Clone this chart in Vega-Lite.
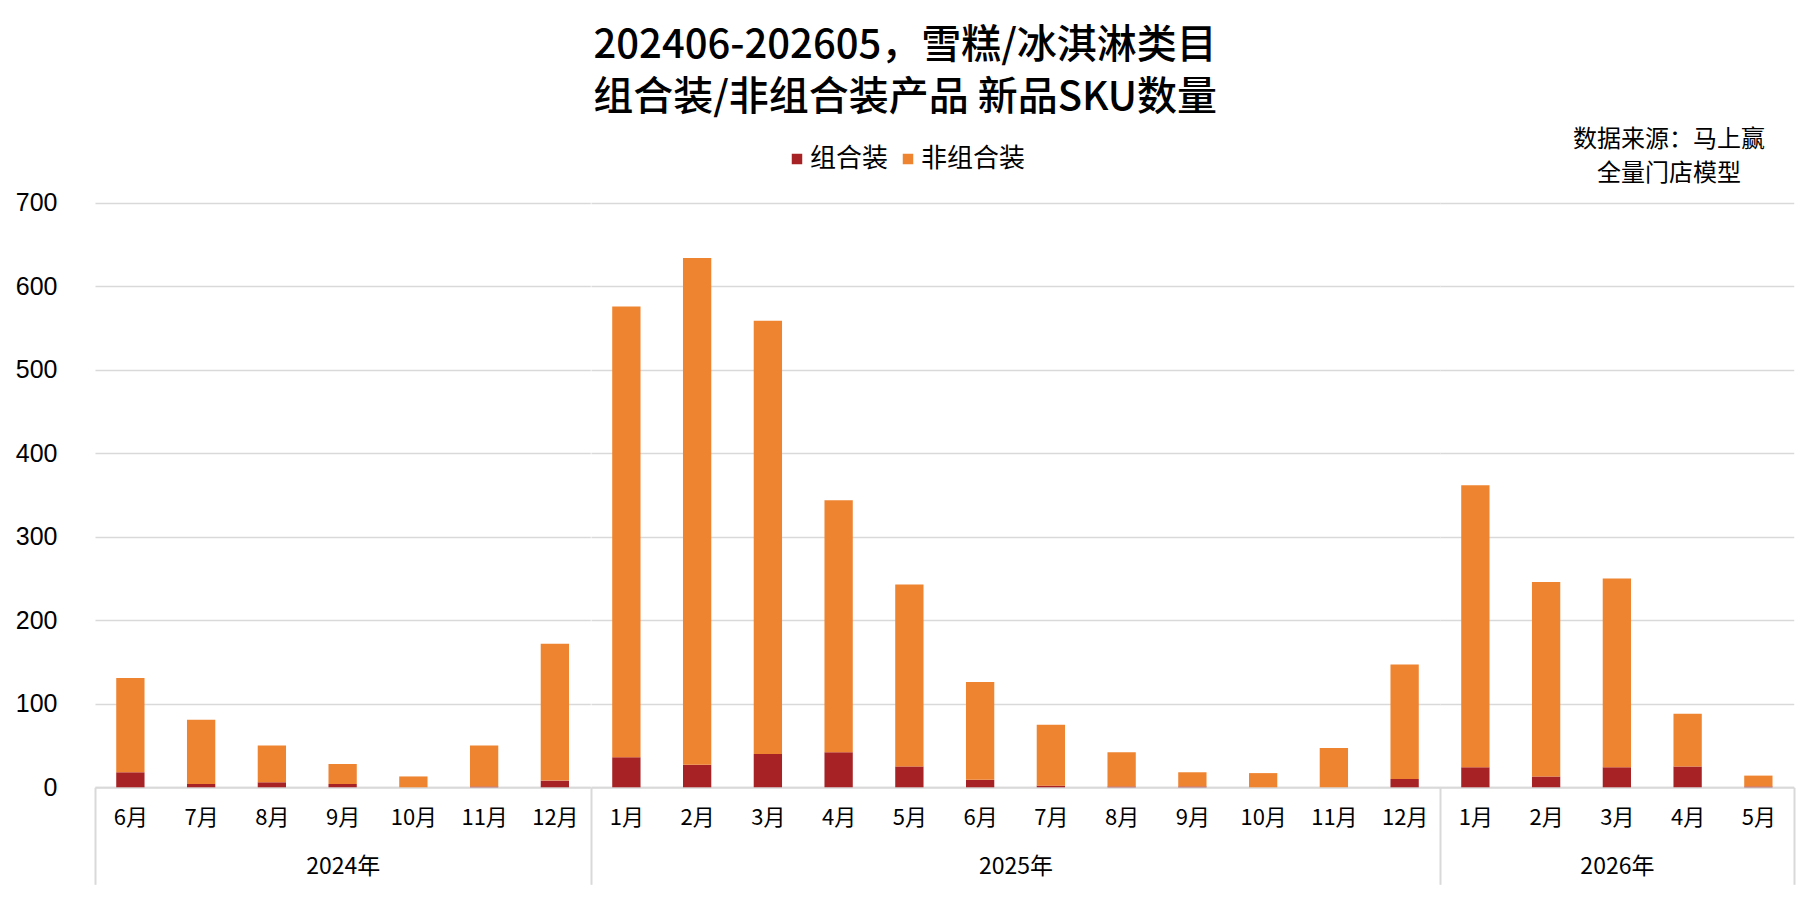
{
  "$schema": "https://vega.github.io/schema/vega-lite/v6.json",
  "padding": {"left": 15, "top": 26, "right": 23, "bottom": 8},
  "background": "white",
  "title": {
    "text": ["202406-202605，雪糕/冰淇淋类目", "组合装/非组合装产品 新品SKU数量"],
    "anchor": "middle",
    "frame": "bounds",
    "font": "Noto Sans CJK SC",
    "fontSize": 40,
    "lineHeight": 52,
    "fontWeight": 500,
    "color": "#000000",
    "offset": -2
  },
  "data": {
    "values": [
      {"year": "2024年", "month": "6月", "type": "组合装", "count": 18},
      {"year": "2024年", "month": "6月", "type": "非组合装", "count": 113},
      {"year": "2024年", "month": "7月", "type": "组合装", "count": 4},
      {"year": "2024年", "month": "7月", "type": "非组合装", "count": 77},
      {"year": "2024年", "month": "8月", "type": "组合装", "count": 6},
      {"year": "2024年", "month": "8月", "type": "非组合装", "count": 44},
      {"year": "2024年", "month": "9月", "type": "组合装", "count": 4},
      {"year": "2024年", "month": "9月", "type": "非组合装", "count": 24},
      {"year": "2024年", "month": "10月", "type": "组合装", "count": 0},
      {"year": "2024年", "month": "10月", "type": "非组合装", "count": 13},
      {"year": "2024年", "month": "11月", "type": "组合装", "count": 1},
      {"year": "2024年", "month": "11月", "type": "非组合装", "count": 49},
      {"year": "2024年", "month": "12月", "type": "组合装", "count": 8},
      {"year": "2024年", "month": "12月", "type": "非组合装", "count": 164},
      {"year": "2025年", "month": "1月", "type": "组合装", "count": 36},
      {"year": "2025年", "month": "1月", "type": "非组合装", "count": 540},
      {"year": "2025年", "month": "2月", "type": "组合装", "count": 27},
      {"year": "2025年", "month": "2月", "type": "非组合装", "count": 607},
      {"year": "2025年", "month": "3月", "type": "组合装", "count": 40},
      {"year": "2025年", "month": "3月", "type": "非组合装", "count": 519},
      {"year": "2025年", "month": "4月", "type": "组合装", "count": 42},
      {"year": "2025年", "month": "4月", "type": "非组合装", "count": 302},
      {"year": "2025年", "month": "5月", "type": "组合装", "count": 25},
      {"year": "2025年", "month": "5月", "type": "非组合装", "count": 218},
      {"year": "2025年", "month": "6月", "type": "组合装", "count": 9},
      {"year": "2025年", "month": "6月", "type": "非组合装", "count": 117},
      {"year": "2025年", "month": "7月", "type": "组合装", "count": 2},
      {"year": "2025年", "month": "7月", "type": "非组合装", "count": 73},
      {"year": "2025年", "month": "8月", "type": "组合装", "count": 1},
      {"year": "2025年", "month": "8月", "type": "非组合装", "count": 41},
      {"year": "2025年", "month": "9月", "type": "组合装", "count": 1},
      {"year": "2025年", "month": "9月", "type": "非组合装", "count": 17},
      {"year": "2025年", "month": "10月", "type": "组合装", "count": 0},
      {"year": "2025年", "month": "10月", "type": "非组合装", "count": 17},
      {"year": "2025年", "month": "11月", "type": "组合装", "count": 0},
      {"year": "2025年", "month": "11月", "type": "非组合装", "count": 47},
      {"year": "2025年", "month": "12月", "type": "组合装", "count": 10},
      {"year": "2025年", "month": "12月", "type": "非组合装", "count": 137},
      {"year": "2026年", "month": "1月", "type": "组合装", "count": 24},
      {"year": "2026年", "month": "1月", "type": "非组合装", "count": 338},
      {"year": "2026年", "month": "2月", "type": "组合装", "count": 13},
      {"year": "2026年", "month": "2月", "type": "非组合装", "count": 233},
      {"year": "2026年", "month": "3月", "type": "组合装", "count": 24},
      {"year": "2026年", "month": "3月", "type": "非组合装", "count": 226},
      {"year": "2026年", "month": "4月", "type": "组合装", "count": 25},
      {"year": "2026年", "month": "4月", "type": "非组合装", "count": 63},
      {"year": "2026年", "month": "5月", "type": "组合装", "count": 1},
      {"year": "2026年", "month": "5月", "type": "非组合装", "count": 13}
    ]
  },
  "spacing": 0,
  "bounds": "flush",
  "resolve": {"scale": {"y": "shared", "color": "shared"}},
  "hconcat": [
    {
      "width": 495.25,
      "height": 584.3,
      "title": {"text": [" ", " "], "fontSize": 24, "lineHeight": 34, "offset": 17},
      "transform": [{"filter": {"field": "year", "equal": "2024年"}}],
      "mark": {"type": "bar", "width": {"band": 0.4}},
      "encoding": {
        "x": {
          "field": "month", "type": "ordinal", "sort": null,
          "scale": {"paddingInner": 0, "paddingOuter": 0},
          "axis": {
            "title": "2024年", "labelAngle": 0, "tickBand": "extent", "tickSize": 97,
            "tickWidth": 2, "tickColor": "#d9d9d9",
            "tickOpacity": {"condition": {"test": "datum.index < 0", "value": 1}, "value": 0},
            "labelPadding": -67, "labelBaseline": "middle", "titleY": 79, "titleBaseline": "middle"
          }
        },
        "y": {
          "field": "count", "type": "quantitative", "stack": "zero",
          "scale": {"domain": [0, 700]},
          "axis": {
            "title": null, "values": [0, 100, 200, 300, 400, 500, 600, 700],
            "domain": false, "ticks": false, "labelPadding": 38,
            "labelFont": "Liberation Sans", "labelFontSize": 25
          }
        },
        "color": {
          "field": "type", "type": "nominal",
          "scale": {"domain": ["组合装", "非组合装"], "range": ["#A72224", "#EF8430"]},
          "legend": {"orient": "none", "legendX": 689, "legendY": -57, "direction": "horizontal", "title": null}
        },
        "order": {"field": "type", "sort": "ascending"}
      }
    },
    {
      "width": 849,
      "height": 584.3,
      "title": {"text": [" ", " "], "fontSize": 24, "lineHeight": 34, "offset": 17},
      "transform": [{"filter": {"field": "year", "equal": "2025年"}}],
      "mark": {"type": "bar", "width": {"band": 0.4}},
      "encoding": {
        "x": {
          "field": "month", "type": "ordinal", "sort": null,
          "scale": {"paddingInner": 0, "paddingOuter": 0},
          "axis": {
            "title": "2025年", "labelAngle": 0, "tickBand": "extent", "tickSize": 97,
            "tickWidth": 2, "tickColor": "#d9d9d9",
            "tickOpacity": {"condition": {"test": "datum.index < 0", "value": 1}, "value": 0},
            "labelPadding": -67, "labelBaseline": "middle", "titleY": 79, "titleBaseline": "middle"
          }
        },
        "y": {
          "field": "count", "type": "quantitative", "stack": "zero",
          "scale": {"domain": [0, 700]},
          "axis": {"title": null, "values": [0, 100, 200, 300, 400, 500, 600, 700], "domain": false, "ticks": false, "labels": false}
        },
        "color": {
          "field": "type", "type": "nominal",
          "scale": {"domain": ["组合装", "非组合装"], "range": ["#A72224", "#EF8430"]},
          "legend": {"orient": "none", "legendX": 689, "legendY": -57, "direction": "horizontal", "title": null}
        },
        "order": {"field": "type", "sort": "ascending"}
      }
    },
    {
      "width": 353.75,
      "height": 584.3,
      "title": {
        "text": ["数据来源：马上赢", "全量门店模型"],
        "anchor": "end", "align": "center", "dx": -126,
        "fontSize": 24, "lineHeight": 34, "offset": 17
      },
      "transform": [{"filter": {"field": "year", "equal": "2026年"}}],
      "mark": {"type": "bar", "width": {"band": 0.4}},
      "encoding": {
        "x": {
          "field": "month", "type": "ordinal", "sort": null,
          "scale": {"paddingInner": 0, "paddingOuter": 0},
          "axis": {
            "title": "2026年", "labelAngle": 0, "tickBand": "extent", "tickSize": 97,
            "tickWidth": 2, "tickColor": "#d9d9d9",
            "tickOpacity": {"condition": {"test": "datum.index < 0 || datum.value === '5月'", "value": 1}, "value": 0},
            "labelPadding": -67, "labelBaseline": "middle", "titleY": 79, "titleBaseline": "middle"
          }
        },
        "y": {
          "field": "count", "type": "quantitative", "stack": "zero",
          "scale": {"domain": [0, 700]},
          "axis": {"title": null, "values": [0, 100, 200, 300, 400, 500, 600, 700], "domain": false, "ticks": false, "labels": false}
        },
        "color": {
          "field": "type", "type": "nominal",
          "scale": {"domain": ["组合装", "非组合装"], "range": ["#A72224", "#EF8430"]},
          "legend": {"orient": "none", "legendX": 689, "legendY": -57, "direction": "horizontal", "title": null}
        },
        "order": {"field": "type", "sort": "ascending"}
      }
    }
  ],
  "config": {
    "view": {"stroke": null},
    "title": {"font": "Noto Sans CJK SC", "fontWeight": "normal", "color": "#000000"},
    "axis": {
      "labelFont": "Noto Sans CJK SC",
      "labelFontSize": 22,
      "labelColor": "#000000",
      "titleFont": "Noto Sans CJK SC",
      "titleFontSize": 23,
      "titleFontWeight": "normal",
      "titleColor": "#000000",
      "domainColor": "#d9d9d9",
      "domainWidth": 2,
      "gridColor": "#d9d9d9",
      "gridWidth": 1.3
    },
    "axisX": {"grid": false},
    "legend": {
      "symbolType": "square",
      "symbolSize": 110,
      "symbolStrokeWidth": 0,
      "labelFont": "Noto Sans CJK SC",
      "labelFontSize": 26,
      "labelColor": "#000000",
      "labelOffset": 0,
      "columnPadding": 6
    }
  }
}
